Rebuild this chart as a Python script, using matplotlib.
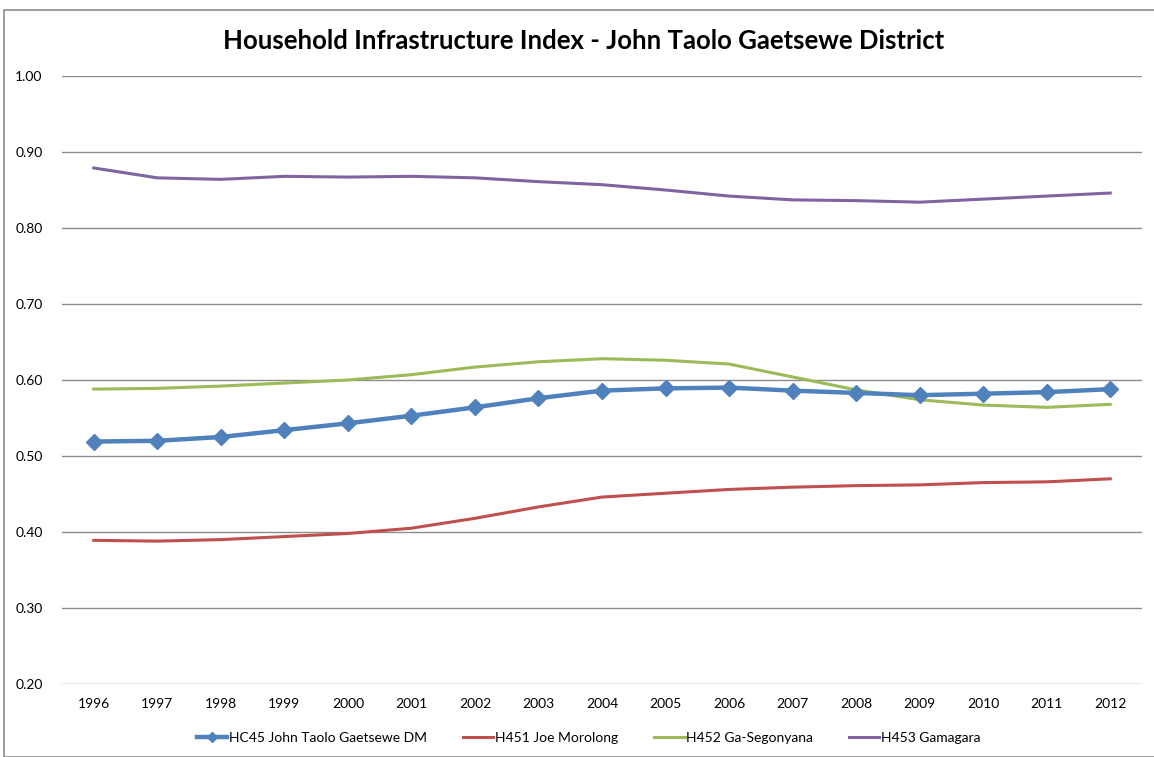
import matplotlib.pyplot as plt
from matplotlib.patches import Rectangle

years = list(range(1996, 2013))
john_taolo = [0.519, 0.520, 0.525, 0.534, 0.543, 0.553, 0.564, 0.576, 0.586,
              0.589, 0.590, 0.586, 0.583, 0.580, 0.582, 0.584, 0.588]
joe_morolong = [0.389, 0.388, 0.390, 0.394, 0.398, 0.405, 0.418, 0.433, 0.446,
                0.451, 0.456, 0.459, 0.461, 0.462, 0.465, 0.466, 0.470]
ga_segonyana = [0.588, 0.589, 0.592, 0.596, 0.600, 0.607, 0.617, 0.624, 0.628,
                0.626, 0.621, 0.604, 0.587, 0.574, 0.567, 0.564, 0.568]
gamagara = [0.879, 0.866, 0.864, 0.868, 0.867, 0.868, 0.866, 0.861, 0.857,
            0.850, 0.842, 0.837, 0.836, 0.834, 0.838, 0.842, 0.846]

labels = ["HC45 John Taolo Gaetsewe DM", "H451 Joe Morolong",
          "H452 Ga-Segonyana", "H453 Gamagara"]
y_ticks = [0.2, 0.3, 0.4, 0.5, 0.6, 0.7, 0.8, 0.9, 1.0]

plt.rcParams['font.family'] = ['Lato', 'DejaVu Sans']

W, H = 1154, 757
fig = plt.figure(figsize=(W / 100, H / 100), dpi=100)
ax = fig.add_axes([62 / W, 1 - 684 / H, (1142 - 62) / W, (684 - 76) / H])

# chart area border
fig.patches.append(Rectangle((4 / W, 0), 1.2, 1 - 10 / H, transform=fig.transFigure,
                             fill=False, edgecolor='#8c8c8c', linewidth=1.2))

x = list(range(len(years)))
ax.plot(x, john_taolo, color='#4F81BD', linewidth=3.2, marker='D',
        markersize=8.5, solid_joinstyle='round', label=labels[0], zorder=5)
ax.plot(x, joe_morolong, color='#C0504D', linewidth=2.2,
        solid_joinstyle='round', label=labels[1], zorder=4)
ax.plot(x, ga_segonyana, color='#9BBB59', linewidth=2.2,
        solid_joinstyle='round', label=labels[2], zorder=4)
ax.plot(x, gamagara, color='#8064A2', linewidth=2.2,
        solid_joinstyle='round', label=labels[3], zorder=4)

ax.set_xlim(-0.5, len(years) - 0.5)
ax.set_ylim(0.2, 1.0)
ax.set_yticks(y_ticks)
ax.set_yticklabels([f"{v:.2f}" for v in y_ticks])
ax.set_xticks(x)
ax.set_xticklabels([str(y) for y in years])
ax.tick_params(length=0, labelsize=10, colors='black')
ax.tick_params(axis='y', pad=14)
ax.tick_params(axis='x', pad=10)
ax.grid(axis='y', color='#8c8c8c', linewidth=1)
ax.set_axisbelow(True)
for s in ax.spines.values():
    s.set_visible(False)

fig.text(0.506, 1 - 41 / H, "Household Infrastructure Index - John Taolo Gaetsewe District",
         ha='center', va='center', fontsize=18.5, fontweight='bold')

fig.legend(loc='center', bbox_to_anchor=(0.51, 1 - 738 / H), ncol=4, frameon=False,
           fontsize=10, handlelength=2.2, columnspacing=2.6, handletextpad=0.1,
           markerscale=0.6)

plt.savefig("out.png", dpi=100)
plt.close()
